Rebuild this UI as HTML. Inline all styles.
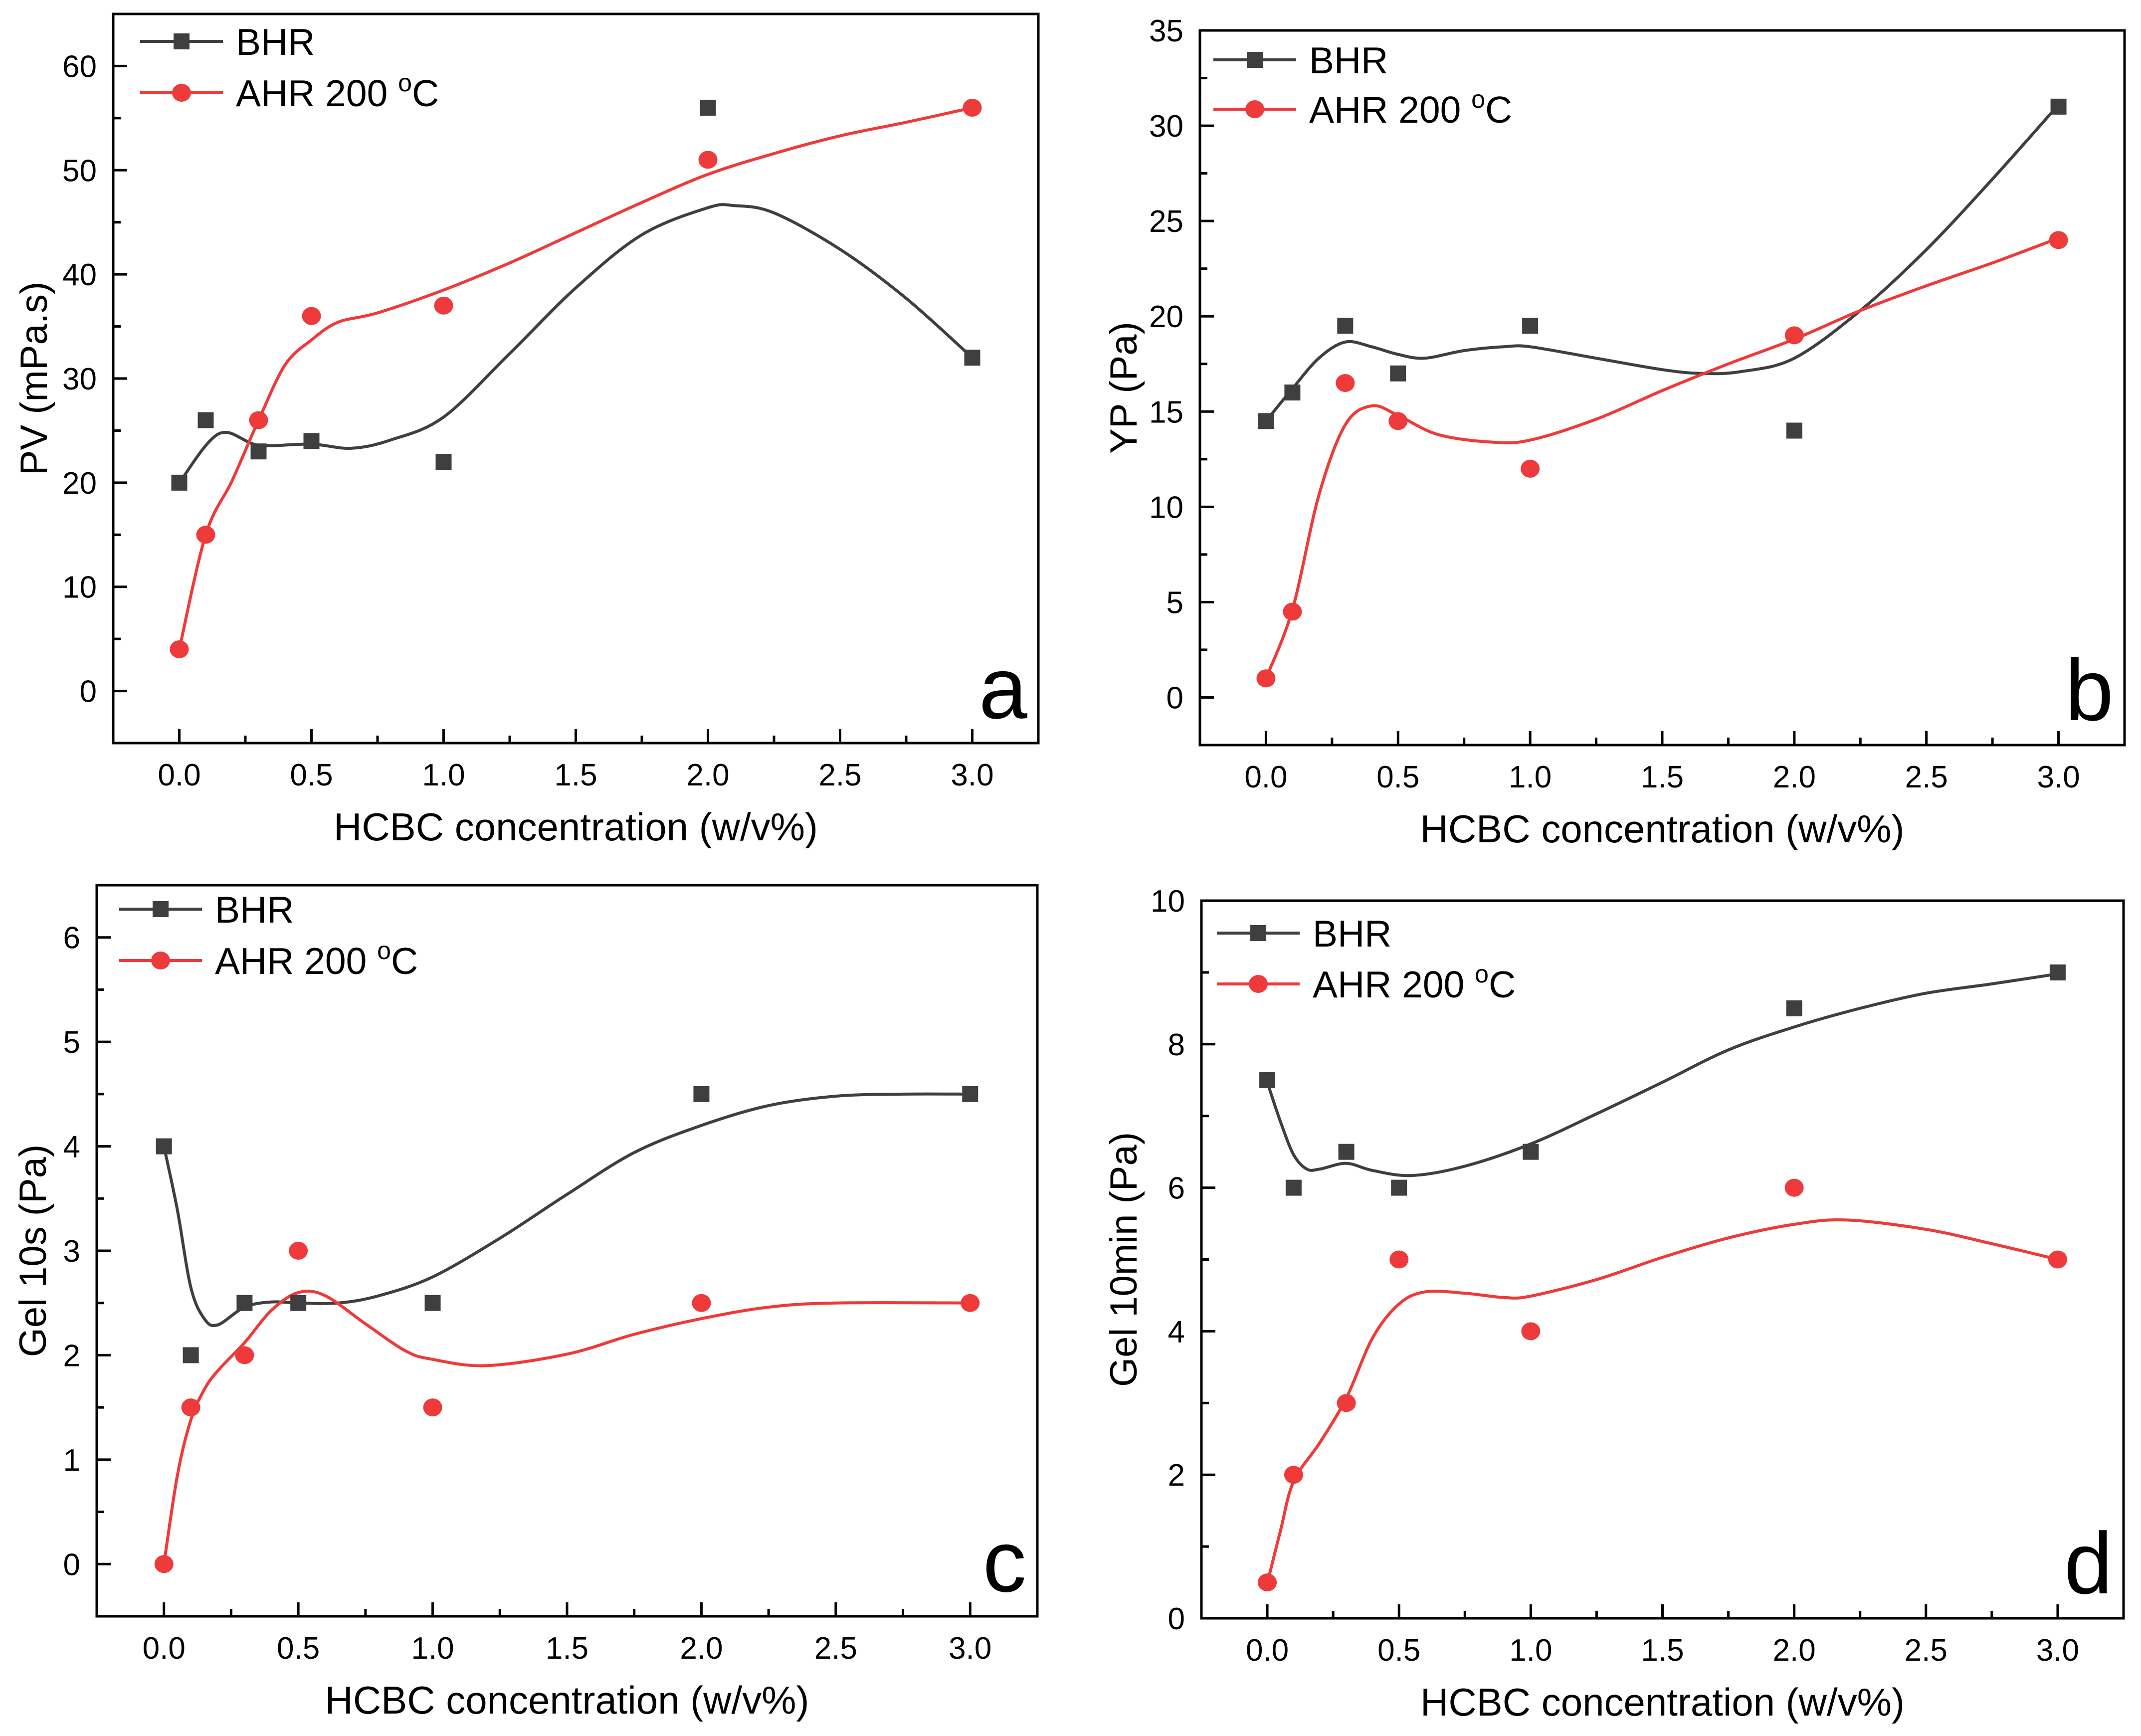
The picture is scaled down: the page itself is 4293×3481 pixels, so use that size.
<!DOCTYPE html>
<html><head><meta charset="utf-8"><style>
html,body{margin:0;padding:0;background:#fff;}
svg{display:block;}
text{font-family:"Liberation Sans",Arial,sans-serif;fill:#000;}
</style></head>
<body>
<svg id="fig" width="4293" height="3481" viewBox="0 0 4293 3481" xmlns="http://www.w3.org/2000/svg"></svg>
<script>
// ---- data ----
const xCats = [0, 0.1, 0.3, 0.5, 1, 2, 3];
const xTicks = [0, 0.5, 1, 1.5, 2, 2.5, 3];
const xTickLabels = ["0.0","0.5","1.0","1.5","2.0","2.5","3.0"];

const pvBHR = [20, 26, 23, 24, 22, 56, 32];
const pvAHR = [4, 15, 26, 36, 37, 51, 56];
const ypBHR = [14.5, 16, 19.5, 17, 19.5, 14, 31];
const ypAHR = [1, 4.5, 16.5, 14.5, 12, 19, 24];
const g10sBHR = [4, 2, 2.5, 2.5, 2.5, 4.5, 4.5];
const g10sAHR = [0, 1.5, 2, 3, 1.5, 2.5, 2.5];
const g10mBHR = [7.5, 6, 6.5, 6, 6.5, 8.5, 9];
const g10mAHR = [0.5, 2, 3, 5, 4, 6, 5];

// fitted spline curves
const pvBHRfitX = [0,0.15,0.3,0.5,0.65,0.8,1,1.25,1.5,1.75,2,2.1,2.25,2.5,2.75,3];
const pvBHRfitY = [20,24.7,23.6,23.7,23.3,24.1,26.3,32.4,38.7,43.8,46.4,46.6,45.9,42.4,37.7,32];
const pvAHRfitX = [0,0.1,0.2,0.3,0.4,0.5,0.6,0.75,1,1.25,1.5,1.75,2,2.25,2.5,2.75,3];
const pvAHRfitY = [4,15,20.2,26,31.3,33.7,35.4,36.3,38.5,41.1,44,46.9,49.6,51.6,53.3,54.6,56];
const ypBHRfitX = [0,0.1,0.2,0.3,0.4,0.5,0.6,0.75,0.9,1,1.25,1.5,1.65,1.8,2,2.25,2.5,2.75,3];
const ypBHRfitY = [14.5,16.2,17.8,18.65,18.4,18,17.8,18.2,18.4,18.4,17.8,17.2,17,17.1,17.8,20.3,23.5,27.2,31.1];
const ypAHRfitX = [0,0.1,0.2,0.3,0.4,0.5,0.65,0.85,1,1.25,1.5,1.75,2,2.25,2.5,2.75,3];
const ypAHRfitY = [1,4.6,10.6,14.3,15.3,14.8,13.8,13.4,13.5,14.6,16.1,17.5,18.8,20.3,21.6,22.8,24.1];
const g10sBHRfitX = [0,0.05,0.1,0.15,0.2,0.3,0.4,0.5,0.65,0.8,1,1.25,1.5,1.75,2,2.25,2.5,2.75,3];
const g10sBHRfitY = [4,3.39,2.65,2.35,2.29,2.46,2.51,2.5,2.5,2.57,2.75,3.12,3.54,3.94,4.2,4.39,4.48,4.5,4.5];
const g10sAHRfitX = [0,0.05,0.1,0.15,0.2,0.3,0.4,0.5,0.6,0.75,0.9,1,1.2,1.5,1.75,2,2.25,2.5,3];
const g10sAHRfitY = [0,0.85,1.38,1.67,1.85,2.12,2.43,2.6,2.57,2.3,2.04,1.96,1.9,2.01,2.2,2.35,2.46,2.5,2.5];
const g10mBHRfitX = [0,0.05,0.1,0.15,0.2,0.3,0.4,0.55,0.75,1,1.25,1.5,1.75,2,2.25,2.5,2.75,3];
const g10mBHRfitY = [7.47,6.92,6.46,6.26,6.26,6.34,6.24,6.17,6.3,6.61,7.03,7.47,7.92,8.24,8.5,8.71,8.84,8.98];
const g10mAHRfitX = [0,0.05,0.1,0.2,0.3,0.4,0.5,0.6,0.75,0.9,1,1.25,1.5,1.75,2,2.2,2.5,2.75,3];
const g10mAHRfitY = [0.49,1.22,1.91,2.45,3.07,3.91,4.38,4.55,4.53,4.47,4.49,4.72,5.03,5.3,5.49,5.55,5.42,5.22,5];

const pvTicks = [0,10,20,30,40,50,60];
const ypTicks = [0,5,10,15,20,25,30,35];
const g10sTicks = [0,1,2,3,4,5,6];
const g10mTicks = [0,2,4,6,8,10];

const GRAY = "#3f3f3f", RED = "#ee3a3a";
const NS = "http://www.w3.org/2000/svg";
const svg = document.getElementById("fig");

function mk(tag, attrs, parent){
  const e = document.createElementNS(NS, tag);
  for (const k in attrs) e.setAttribute(k, attrs[k]);
  (parent||svg).appendChild(e);
  return e;
}
function crPath(px, py){
  let d = "M" + px[0].toFixed(1) + "," + py[0].toFixed(1);
  for (let i=0;i<px.length-1;i++){
    const x0=px[Math.max(i-1,0)], y0=py[Math.max(i-1,0)];
    const x1=px[i], y1=py[i], x2=px[i+1], y2=py[i+1];
    const x3=px[Math.min(i+2,px.length-1)], y3=py[Math.min(i+2,px.length-1)];
    const c1x=x1+(x2-x0)/6, c1y=y1+(y2-y0)/6, c2x=x2-(x3-x1)/6, c2y=y2-(y3-y1)/6;
    d += " C"+c1x.toFixed(1)+","+c1y.toFixed(1)+" "+c2x.toFixed(1)+","+c2y.toFixed(1)+" "+x2.toFixed(1)+","+y2.toFixed(1);
  }
  return d;
}

function panel(p){
  const g = mk("g", {});
  
  
  const sx = v => p.L + (v - p.xmin) / (p.xmax - p.xmin) * (p.R - p.L);
  const sy = v => p.B - (v - p.ymin) / (p.ymax - p.ymin) * (p.B - p.T);

  const fr = mk("rect", {x:p.L, y:p.T, width:p.R-p.L, height:p.B-p.T, fill:"none", stroke:"#000", "stroke-width":5}, g);
  
  

  const xt = mk("g", {}, g);
  
  
  for (let i=0;i<xTicks.length;i++){
    const x = sx(xTicks[i]);
    mk("line", {x1:x, x2:x, y1:p.B, y2:p.B-28, stroke:"#000", "stroke-width":5}, xt);
    if (i < xTicks.length-1){
      const xm = sx((xTicks[i]+xTicks[i+1])/2);
      mk("line", {x1:xm, x2:xm, y1:p.B, y2:p.B-15, stroke:"#000", "stroke-width":5}, xt);
    }
    const t = mk("text", {x:x, y:p.B+85, "font-size":62, "text-anchor":"middle"}, xt);
    t.textContent = xTickLabels[i];
    
    
  }
  const yt = mk("g", {}, g);
  
  
  for (let i=0;i<p.yTicks.length;i++){
    const y = sy(p.yTicks[i]);
    mk("line", {x1:p.L, x2:p.L+28, y1:y, y2:y, stroke:"#000", "stroke-width":5}, yt);
    const ym = sy(p.yTicks[i] + p.minor);
    if (ym > p.T + 3) mk("line", {x1:p.L, x2:p.L+15, y1:ym, y2:ym, stroke:"#000", "stroke-width":5}, yt);
    const t = mk("text", {x:p.L-33, y:y+22, "font-size":62, "text-anchor":"end"}, yt);
    t.textContent = String(p.yTicks[i]);
    
    
  }
  const xtl = mk("text", {x:(p.L+p.R)/2, y:p.B+195, "font-size":78, "text-anchor":"middle"}, g);
  xtl.textContent = "HCBC concentration (w/v%)";
  
  
  const ytl = mk("text", {x:0, y:0, "font-size":76, "text-anchor":"middle", transform:"translate("+(p.ytx+26)+","+((p.T+p.B)/2)+") rotate(-90)"}, g);
  ytl.textContent = p.ytitle;
  
  
  const lt = mk("text", {x:p.R-22, y:p.B-50, "font-size":175, "text-anchor":"end"}, g);
  lt.textContent = p.letter;
  
  

  const c1 = mk("path", {d:crPath(p.bfx.map(sx), p.bfy.map(sy)), fill:"none", stroke:GRAY, "stroke-width":6}, g);
  
  
  const c2 = mk("path", {d:crPath(p.afx.map(sx), p.afy.map(sy)), fill:"none", stroke:RED, "stroke-width":6}, g);
  
  

  for (let i=0;i<xCats.length;i++){
    const m = mk("rect", {x:sx(xCats[i])-16, y:sy(p.bhr[i])-16, width:32, height:32, fill:GRAY}, g);
    
    
  }
  for (let i=0;i<xCats.length;i++){
    const m = mk("ellipse", {cx:sx(xCats[i]), cy:sy(p.ahr[i]), rx:19, ry:18, fill:RED}, g);
    
    
  }

  const lg = mk("g", {}, g);
  
  
  const lx = p.L + p.lgx, ly1 = p.T + p.lgy1, ly2 = p.T + p.lgy2;
  mk("line", {x1:lx, x2:lx+166, y1:ly1, y2:ly1, stroke:GRAY, "stroke-width":6}, lg);
  mk("rect", {x:lx+83-16, y:ly1-16, width:32, height:32, fill:GRAY}, lg);
  const t1 = mk("text", {x:lx+192, y:ly1+27, "font-size":75}, lg);
  t1.textContent = "BHR";
  
  
  mk("line", {x1:lx, x2:lx+166, y1:ly2, y2:ly2, stroke:RED, "stroke-width":6}, lg);
  mk("ellipse", {cx:lx+83, cy:ly2, rx:19, ry:18, fill:RED}, lg);
  const t2 = mk("text", {x:lx+192, y:ly2+27, "font-size":75}, lg);
  t2.innerHTML = 'AHR 200 <tspan dy="-30" font-size="50">o</tspan><tspan dy="30">C</tspan>';
  
  
}

panel({name:"panel-a-pv", L:227, R:2082, T:28, B:1490, xmin:-0.25, xmax:3.25, ymin:-5, ymax:65,
  yTicks:pvTicks, minor:5, ytitle:"PV (mPa.s)", ytx:68, letter:"a",
  bhr:pvBHR, ahr:pvAHR, bfx:pvBHRfitX, bfy:pvBHRfitY, afx:pvAHRfitX, afy:pvAHRfitY,
  lgx:54, lgy1:55, lgy2:158});
panel({name:"panel-b-yp", L:2406, R:4260, T:61, B:1494, xmin:-0.25, xmax:3.25, ymin:-2.5, ymax:35,
  yTicks:ypTicks, minor:2.5, ytitle:"YP (Pa)", ytx:2253, letter:"b",
  bhr:ypBHR, ahr:ypAHR, bfx:ypBHRfitX, bfy:ypBHRfitY, afx:ypAHRfitX, afy:ypAHRfitY,
  lgx:27, lgy1:59, lgy2:158});
panel({name:"panel-c-gel10s", L:194, R:2080, T:1775, B:3241, xmin:-0.25, xmax:3.25, ymin:-0.5, ymax:6.5,
  yTicks:g10sTicks, minor:0.5, ytitle:"Gel 10s (Pa)", ytx:66, letter:"c",
  bhr:g10sBHR, ahr:g10sAHR, bfx:g10sBHRfitX, bfy:g10sBHRfitY, afx:g10sAHRfitX, afy:g10sAHRfitY,
  lgx:45, lgy1:48, lgy2:151});
panel({name:"panel-d-gel10min", L:2409, R:4258, T:1806, B:3245, xmin:-0.25, xmax:3.25, ymin:0, ymax:10,
  yTicks:g10mTicks, minor:1, ytitle:"Gel 10min (Pa)", ytx:2253, letter:"d",
  bhr:g10mBHR, ahr:g10mAHR, bfx:g10mBHRfitX, bfy:g10mBHRfitY, afx:g10mAHRfitX, afy:g10mAHRfitY,
  lgx:31, lgy1:65, lgy2:167});
</script>
</body></html>
